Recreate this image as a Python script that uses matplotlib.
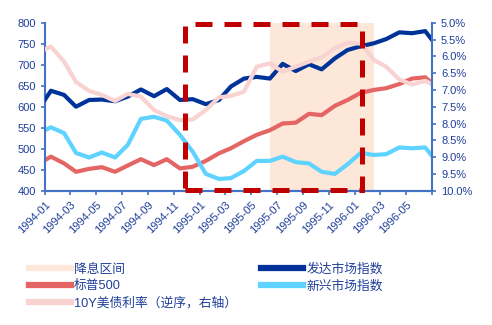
import matplotlib
matplotlib.use("Agg")
import matplotlib.pyplot as plt
import pandas as pd
from matplotlib.lines import Line2D
from matplotlib.patches import Rectangle
from matplotlib.transforms import ScaledTranslation

plt.rcParams['font.family'] = ['Liberation Sans', 'Noto Sans CJK SC', 'DejaVu Sans']

# months of the data (points sit mid-month, plus the two ends of the axis)
months = ['1994-01', '1994-02', '1994-03', '1994-04', '1994-05', '1994-06',
          '1994-07', '1994-08', '1994-09', '1994-10', '1994-11', '1994-12',
          '1995-01', '1995-02', '1995-03', '1995-04', '1995-05', '1995-06',
          '1995-07', '1995-08', '1995-09', '1995-10', '1995-11', '1995-12',
          '1996-01', '1996-02', '1996-03', '1996-04', '1996-05', '1996-06']
dates = pd.to_datetime(['1994-01-01'] + [m + '-15' for m in months] + ['1996-07-01'])

developed = [617, 638, 628, 600, 616, 617, 613, 624, 641, 625, 642, 616, 618, 606, 616, 648,
             667, 671, 667, 702, 685, 701, 689, 715, 735, 744, 751, 761, 777, 775, 780, 759]
sp500 = [473, 481, 465, 445, 452, 456, 445, 460, 475, 461, 475, 453, 457, 471, 489, 501,
         518, 533, 544, 560, 562, 583, 580, 602, 616, 633, 640, 644, 654, 667, 670, 656]
emerging = [544, 551, 537, 490, 479, 491, 479, 509, 571, 576, 567, 533, 493, 440, 428, 430,
            447, 471, 471, 481, 468, 465, 445, 440, 463, 490, 485, 487, 503, 501, 503, 483]
ust10y = [5.79, 5.71, 6.16, 6.76, 7.03, 7.15, 7.33, 7.12, 7.20, 7.60, 7.78, 7.90, 7.88, 7.60, 7.22, 7.18,
          7.05, 6.31, 6.21, 6.46, 6.31, 6.16, 6.03, 5.76, 5.60, 5.62, 6.11, 6.31, 6.69, 6.84, 6.73, 6.83]

tick_dates = pd.date_range('1994-01-01', '1996-07-01', freq='2MS')
tick_labels = ['1994-01', '1994-03', '1994-05', '1994-07', '1994-09', '1994-11', '1995-01',
               '1995-03', '1995-05', '1995-07', '1995-09', '1995-11', '1996-01', '1996-03',
               '1996-05', '']

cut_start, cut_end = pd.Timestamp('1995-06-16'), pd.Timestamp('1996-02-15')
box_start, box_end = pd.Timestamp('1994-11-26'), pd.Timestamp('1996-01-17')

c_dev = '#003399'
c_sp = '#E46564'
c_em = '#5FD3FF'
c_ust = '#F9D2D2'
c_cut = '#FCE7D8'
c_axis = '#4472C4'
c_text = '#1F3E99'

fig = plt.figure(figsize=(4.92, 3.25), dpi=100)
ax = fig.add_axes([45 / 492, 1 - 190.7 / 325, 387 / 492, 168 / 325])
ax2 = ax.twinx()

ax.axvspan(cut_start, cut_end, color=c_cut, lw=0, zorder=0)
ax.plot(dates, sp500, color=c_sp, lw=3, zorder=2)
ax.plot(dates, emerging, color=c_em, lw=3, zorder=2)
ax.plot(dates, developed, color=c_dev, lw=3, zorder=3)
ax2.plot(dates, ust10y, color=c_ust, lw=3)

box = Rectangle((box_start, 401), box_end - box_start, 396, transform=ax.transData,
                fill=False, edgecolor='#C00000', lw=3.6, linestyle=(0, (3.4, 2.4)),
                clip_on=False, zorder=5)
ax2.add_patch(box)

ax.set_xlim(pd.Timestamp('1994-01-01'), pd.Timestamp('1996-07-01'))
ax.set_ylim(400, 800)
ax.set_yticks(range(400, 801, 50))
ax2.set_ylim(10, 5)
ax2.set_yticks([5 + 0.5 * i for i in range(11)])
ax2.set_yticklabels(['%.1f%%' % (5 + 0.5 * i) for i in range(11)])

ax.set_xticks(tick_dates)
ax.set_xticklabels(tick_labels, rotation=45, ha='right', va='top', rotation_mode='anchor')
for lab in ax.get_xticklabels():
    lab.set_transform(lab.get_transform() + ScaledTranslation(-0.05, -0.04, fig.dpi_scale_trans))

for a in (ax, ax2):
    for s in a.spines.values():
        s.set_color(c_axis)
        s.set_linewidth(1.5)
    a.spines['top'].set_visible(False)
    a.tick_params(colors=c_axis, labelcolor=c_text, labelsize=8, width=1.2, length=3, direction='out')
ax.spines['right'].set_visible(False)
ax2.spines['left'].set_visible(False)
ax.tick_params(axis='x', labelsize=8)

handles = [Line2D([], [], color=c_cut, lw=4.5),
           Line2D([], [], color=c_sp, lw=4.5),
           Line2D([], [], color=c_ust, lw=4.5),
           Line2D([], [], color=c_dev, lw=4.5),
           Line2D([], [], color=c_em, lw=4.5)]
labels = ['降息区间', '标普500', '10Y美债利率（逆序，右轴）', '发达市场指数', '新兴市场指数']
fig.legend(handles, labels, ncol=2, loc='upper left', bbox_to_anchor=(0.058, 0.19),
           frameon=False, fontsize=9.2, labelcolor=c_text, handlelength=3.3,
           handletextpad=0.25, columnspacing=1.9, labelspacing=0.36,
           borderpad=0, borderaxespad=0)

fig.savefig('out.png', dpi=100)
plt.close(fig)
